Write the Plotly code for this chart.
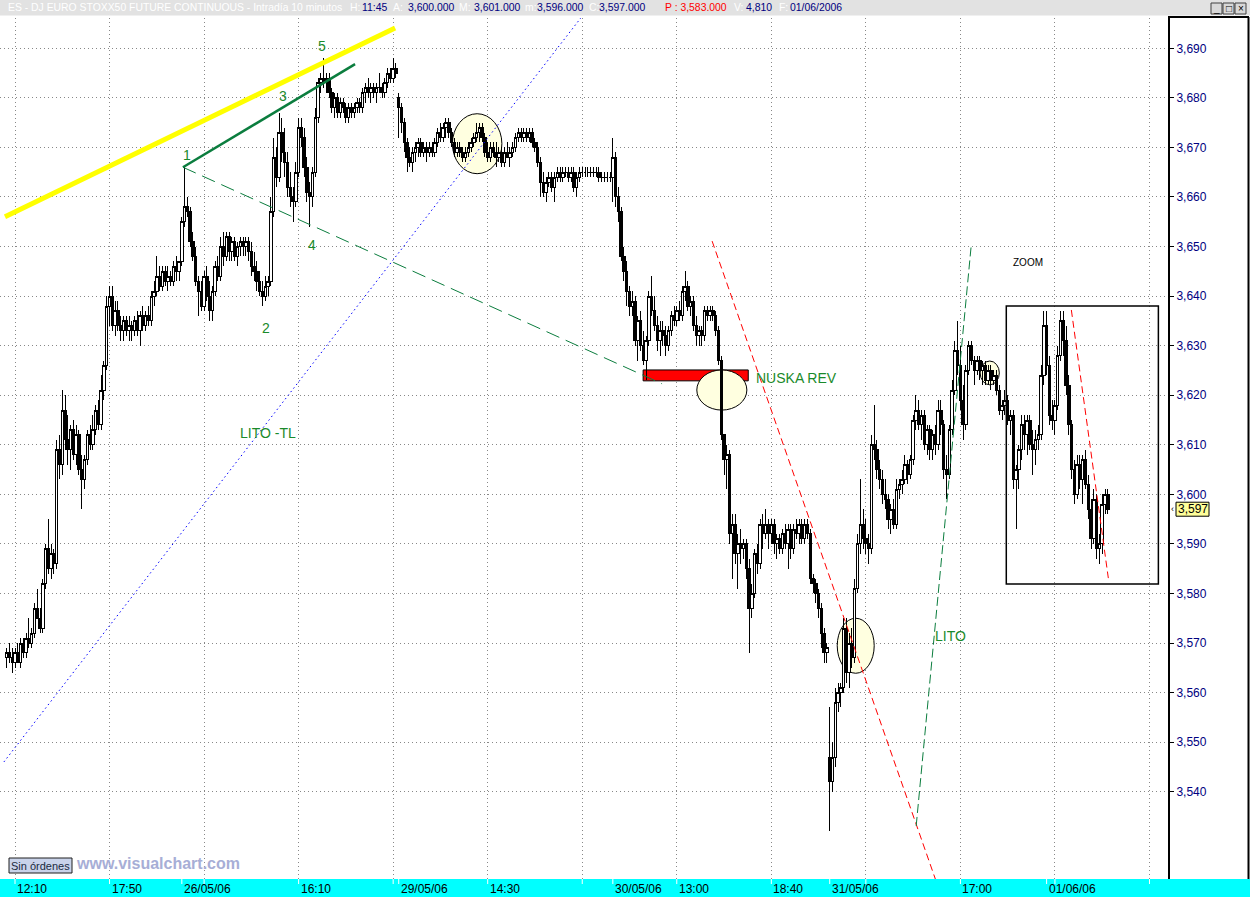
import plotly.graph_objects as go

# ---------------- data (10-minute bars) ----------------
open_prices = [
    3567, 3568, 3567, 3566, 3568, 3566, 3570, 3568, 3571, 3570,
    3572, 3577, 3575, 3573, 3582, 3589, 3585, 3588, 3586, 3609,
    3606, 3617, 3611, 3609, 3613, 3608, 3612, 3605, 3603, 3607,
    3612, 3610, 3613, 3617, 3614, 3621, 3626, 3638, 3640, 3634,
    3637, 3634, 3633, 3635, 3633, 3634, 3633, 3635, 3633, 3636,
    3634, 3636, 3635, 3640, 3641, 3644, 3642, 3645, 3643, 3644,
    3643, 3646, 3645, 3647, 3655, 3658, 3657, 3651, 3648, 3643,
    3641, 3638, 3644, 3640, 3637, 3641, 3646, 3644, 3650, 3648,
    3652, 3649, 3651, 3648, 3650, 3651, 3650, 3651, 3649, 3646,
    3645, 3643, 3641, 3640, 3642, 3643, 3657, 3668, 3664, 3673,
    3669, 3667, 3662, 3660, 3659, 3665, 3674, 3672, 3666, 3661,
    3660, 3665, 3676, 3683, 3684, 3683, 3684, 3681, 3678, 3680,
    3677, 3679, 3678, 3676, 3678, 3677, 3678, 3679, 3678, 3681,
    3682, 3681, 3682, 3681, 3682, 3682, 3681, 3683, 3685, 3684,
    3686, 3680, 3678, 3675, 3671, 3668, 3667, 3669, 3670, 3671,
    3669, 3670, 3669, 3670, 3669, 3671, 3673, 3672, 3674, 3675,
    3673, 3671, 3669, 3670, 3669, 3668, 3669, 3670, 3671, 3672,
    3673, 3674, 3672, 3669, 3668, 3670, 3669, 3668, 3669, 3667,
    3669, 3668, 3669, 3670, 3672, 3673, 3672, 3673, 3672, 3673,
    3671, 3670, 3667, 3663, 3661, 3663, 3664, 3662, 3664, 3665,
    3664, 3665, 3665, 3664, 3665, 3662, 3664, 3665, 3665, 3665,
    3665, 3665, 3665, 3665, 3664, 3664, 3664, 3664, 3664, 3668,
    3660, 3657, 3648, 3645, 3641, 3638, 3639, 3631, 3635, 3630,
    3627, 3631, 3640, 3637, 3634, 3631, 3633, 3632, 3630, 3633,
    3636, 3635, 3637, 3636, 3641, 3642, 3638, 3639, 3634, 3632,
    3633, 3632, 3637, 3636, 3637, 3636, 3633, 3627, 3612, 3607,
    3608, 3592, 3594, 3588, 3590, 3589, 3590, 3585, 3577, 3580,
    3588, 3586, 3594, 3592, 3594, 3592, 3594, 3590, 3591, 3589,
    3592, 3590, 3593, 3589, 3593, 3592, 3594, 3591, 3594, 3592,
    3583, 3582, 3580, 3577, 3572, 3568, 3547, 3542, 3547, 3558,
    3560, 3561, 3573, 3564, 3570, 3567, 3581, 3590, 3594, 3591,
    3590, 3589, 3610, 3609, 3605, 3603, 3600, 3599, 3595, 3597,
    3594, 3601, 3602, 3603, 3606, 3604, 3607, 3615, 3617, 3614,
    3616, 3610, 3613, 3609, 3612, 3610, 3617, 3614, 3605, 3604,
    3613, 3621, 3629, 3626, 3619, 3614, 3625, 3630, 3627, 3625,
    3627, 3625, 3626, 3623, 3625, 3623, 3624, 3621, 3617, 3618,
    3619, 3615, 3616, 3603, 3605, 3609, 3614, 3612, 3615, 3610,
    3609, 3611, 3612, 3624, 3634, 3626, 3616, 3615, 3618, 3628,
    3635, 3631, 3622, 3614, 3605, 3600, 3606, 3603, 3607, 3602,
    3597, 3591, 3599, 3589, 3590, 3598, 3600,
]
high_prices = [
    3569, 3570, 3569, 3569, 3570, 3571, 3571, 3572, 3575, 3573,
    3578, 3581, 3577, 3583, 3590, 3595, 3590, 3589, 3611, 3612,
    3621, 3620, 3616, 3614, 3615, 3614, 3613, 3608, 3608, 3613,
    3614, 3616, 3618, 3619, 3624, 3627, 3640, 3642, 3642, 3639,
    3639, 3636, 3636, 3636, 3636, 3635, 3636, 3637, 3637, 3638,
    3637, 3638, 3641, 3643, 3648, 3646, 3646, 3646, 3646, 3645,
    3647, 3648, 3647, 3656, 3666, 3660, 3658, 3653, 3650, 3644,
    3643, 3645, 3646, 3643, 3642, 3647, 3648, 3652, 3653, 3653,
    3653, 3652, 3652, 3651, 3652, 3652, 3652, 3652, 3651, 3649,
    3647, 3645, 3643, 3644, 3644, 3660, 3672, 3670, 3677, 3676,
    3674, 3669, 3665, 3662, 3667, 3676, 3676, 3674, 3668, 3663,
    3666, 3678, 3684, 3685, 3688, 3685, 3685, 3682, 3681, 3681,
    3680, 3680, 3679, 3679, 3679, 3679, 3680, 3680, 3682, 3683,
    3684, 3683, 3683, 3683, 3685, 3683, 3684, 3686, 3686, 3688,
    3687, 3681, 3679, 3676, 3672, 3670, 3670, 3671, 3672, 3672,
    3671, 3671, 3671, 3671, 3672, 3674, 3675, 3675, 3676, 3676,
    3674, 3672, 3671, 3671, 3670, 3670, 3671, 3672, 3673, 3675,
    3675, 3675, 3673, 3671, 3671, 3671, 3671, 3670, 3670, 3670,
    3671, 3670, 3671, 3673, 3674, 3674, 3674, 3674, 3674, 3674,
    3672, 3671, 3668, 3665, 3664, 3665, 3665, 3665, 3666, 3666,
    3666, 3666, 3666, 3666, 3666, 3665, 3666, 3666, 3666, 3666,
    3666, 3666, 3666, 3666, 3665, 3665, 3665, 3665, 3672, 3669,
    3662, 3658, 3650, 3647, 3642, 3641, 3640, 3636, 3637, 3633,
    3632, 3641, 3644, 3640, 3636, 3635, 3635, 3634, 3634, 3637,
    3638, 3638, 3639, 3642, 3645, 3643, 3640, 3640, 3636, 3634,
    3634, 3638, 3638, 3638, 3638, 3637, 3634, 3628, 3612, 3610,
    3609, 3596, 3596, 3592, 3593, 3591, 3591, 3587, 3582, 3589,
    3590, 3595, 3596, 3597, 3595, 3595, 3595, 3592, 3592, 3593,
    3594, 3594, 3594, 3594, 3595, 3595, 3595, 3595, 3595, 3593,
    3584, 3583, 3581, 3578, 3573, 3570, 3557, 3550, 3561, 3562,
    3562, 3575, 3575, 3572, 3573, 3583, 3592, 3603, 3597, 3595,
    3592, 3612, 3618, 3611, 3607, 3605, 3603, 3600, 3598, 3599,
    3603, 3603, 3605, 3608, 3607, 3608, 3616, 3620, 3619, 3617,
    3617, 3614, 3614, 3613, 3614, 3619, 3619, 3615, 3608, 3614,
    3623, 3631, 3635, 3630, 3622, 3626, 3631, 3631, 3628, 3628,
    3628, 3627, 3627, 3626, 3626, 3625, 3625, 3622, 3619, 3621,
    3620, 3617, 3617, 3606, 3610, 3616, 3616, 3616, 3616, 3613,
    3613, 3614, 3626, 3637, 3637, 3628, 3619, 3619, 3630, 3637,
    3637, 3634, 3624, 3615, 3607, 3608, 3608, 3608, 3609, 3604,
    3599, 3601, 3600, 3592, 3600, 3601, 3601,
]
low_prices = [
    3565, 3566, 3564, 3565, 3566, 3565, 3567, 3567, 3569, 3569,
    3571, 3575, 3572, 3572, 3581, 3584, 3583, 3584, 3585, 3603,
    3604, 3609, 3606, 3605, 3607, 3606, 3604, 3597, 3601, 3606,
    3609, 3609, 3612, 3613, 3613, 3619, 3625, 3634, 3633, 3632,
    3633, 3631, 3631, 3632, 3631, 3631, 3632, 3632, 3630, 3633,
    3633, 3634, 3634, 3638, 3640, 3641, 3641, 3642, 3641, 3642,
    3642, 3643, 3643, 3646, 3654, 3656, 3650, 3647, 3642, 3636,
    3637, 3637, 3639, 3635, 3635, 3640, 3643, 3643, 3646, 3647,
    3647, 3647, 3647, 3646, 3648, 3648, 3648, 3647, 3644, 3643,
    3641, 3640, 3638, 3639, 3640, 3642, 3656, 3662, 3663, 3667,
    3664, 3660, 3658, 3655, 3658, 3664, 3670, 3664, 3659, 3654,
    3658, 3664, 3675, 3681, 3682, 3681, 3680, 3677, 3676, 3676,
    3676, 3677, 3675, 3675, 3676, 3676, 3677, 3677, 3677, 3679,
    3680, 3679, 3680, 3679, 3681, 3680, 3680, 3682, 3683, 3683,
    3684, 3672, 3673, 3669, 3665, 3666, 3665, 3667, 3668, 3668,
    3668, 3667, 3668, 3668, 3668, 3670, 3671, 3671, 3672, 3672,
    3670, 3668, 3668, 3668, 3667, 3667, 3668, 3669, 3670, 3671,
    3671, 3671, 3668, 3667, 3667, 3668, 3666, 3667, 3666, 3666,
    3668, 3666, 3668, 3669, 3671, 3671, 3671, 3671, 3671, 3670,
    3669, 3666, 3660, 3660, 3659, 3662, 3661, 3659, 3663, 3663,
    3663, 3664, 3663, 3663, 3661, 3660, 3663, 3664, 3664, 3664,
    3664, 3664, 3664, 3663, 3663, 3663, 3663, 3663, 3659, 3658,
    3655, 3647, 3643, 3638, 3636, 3636, 3630, 3627, 3629, 3626,
    3623, 3630, 3636, 3633, 3629, 3628, 3630, 3628, 3629, 3632,
    3634, 3634, 3635, 3635, 3639, 3637, 3636, 3633, 3630, 3630,
    3630, 3631, 3635, 3635, 3635, 3632, 3626, 3611, 3604, 3601,
    3590, 3583, 3586, 3581, 3586, 3587, 3583, 3568, 3575, 3579,
    3584, 3585, 3589, 3591, 3589, 3590, 3588, 3587, 3588, 3588,
    3589, 3585, 3587, 3588, 3591, 3590, 3590, 3590, 3591, 3582,
    3580, 3578, 3575, 3569, 3566, 3566, 3532, 3540, 3545, 3556,
    3557, 3560, 3562, 3561, 3565, 3566, 3580, 3588, 3589, 3588,
    3586, 3588, 3607, 3603, 3601, 3598, 3597, 3593, 3592, 3593,
    3593, 3599, 3600, 3602, 3602, 3603, 3606, 3613, 3613, 3611,
    3609, 3608, 3607, 3607, 3608, 3609, 3612, 3603, 3599, 3603,
    3612, 3620, 3624, 3617, 3611, 3613, 3624, 3626, 3622, 3624,
    3623, 3622, 3622, 3622, 3621, 3622, 3620, 3616, 3615, 3616,
    3614, 3612, 3601, 3593, 3601, 3607, 3609, 3608, 3609, 3604,
    3606, 3609, 3611, 3622, 3624, 3614, 3613, 3612, 3617, 3627,
    3628, 3620, 3612, 3603, 3598, 3599, 3601, 3598, 3601, 3595,
    3589, 3590, 3587, 3586, 3588, 3596, 3596,
]
close_prices = [
    3568, 3567, 3566, 3568, 3566, 3570, 3568, 3571, 3570, 3572,
    3577, 3575, 3573, 3582, 3589, 3585, 3588, 3586, 3609, 3606,
    3617, 3611, 3609, 3613, 3608, 3612, 3605, 3603, 3607, 3612,
    3610, 3613, 3617, 3614, 3621, 3626, 3638, 3640, 3634, 3637,
    3634, 3633, 3635, 3633, 3634, 3633, 3635, 3633, 3636, 3634,
    3636, 3635, 3640, 3641, 3644, 3642, 3645, 3643, 3644, 3643,
    3646, 3645, 3647, 3655, 3658, 3657, 3651, 3648, 3643, 3641,
    3638, 3644, 3640, 3637, 3641, 3646, 3644, 3650, 3648, 3652,
    3649, 3651, 3648, 3650, 3651, 3650, 3651, 3649, 3646, 3645,
    3643, 3641, 3640, 3642, 3643, 3657, 3668, 3664, 3673, 3669,
    3667, 3662, 3660, 3659, 3665, 3674, 3672, 3666, 3661, 3660,
    3665, 3676, 3683, 3684, 3683, 3684, 3681, 3678, 3680, 3677,
    3679, 3678, 3676, 3678, 3677, 3678, 3679, 3678, 3681, 3682,
    3681, 3682, 3681, 3682, 3682, 3681, 3683, 3685, 3684, 3686,
    3685, 3678, 3675, 3671, 3668, 3667, 3669, 3670, 3671, 3669,
    3670, 3669, 3670, 3669, 3671, 3673, 3672, 3674, 3675, 3673,
    3671, 3669, 3670, 3669, 3668, 3669, 3670, 3671, 3672, 3673,
    3674, 3672, 3669, 3668, 3670, 3669, 3668, 3669, 3667, 3669,
    3668, 3669, 3670, 3672, 3673, 3672, 3673, 3672, 3673, 3671,
    3670, 3667, 3663, 3661, 3663, 3664, 3662, 3664, 3665, 3664,
    3665, 3665, 3664, 3665, 3662, 3664, 3665, 3665, 3665, 3665,
    3665, 3665, 3665, 3664, 3664, 3664, 3664, 3664, 3668, 3660,
    3657, 3648, 3645, 3641, 3638, 3639, 3631, 3635, 3630, 3627,
    3631, 3640, 3637, 3634, 3631, 3633, 3632, 3630, 3633, 3636,
    3635, 3637, 3636, 3641, 3642, 3638, 3639, 3634, 3632, 3633,
    3632, 3637, 3636, 3637, 3636, 3633, 3627, 3612, 3607, 3608,
    3592, 3594, 3588, 3590, 3589, 3590, 3585, 3577, 3580, 3588,
    3586, 3594, 3592, 3594, 3592, 3594, 3590, 3591, 3589, 3592,
    3590, 3593, 3589, 3593, 3592, 3594, 3591, 3594, 3592, 3583,
    3582, 3580, 3577, 3572, 3568, 3569, 3542, 3547, 3558, 3560,
    3561, 3573, 3564, 3570, 3567, 3581, 3590, 3594, 3591, 3590,
    3589, 3610, 3609, 3605, 3603, 3600, 3599, 3595, 3597, 3594,
    3601, 3602, 3603, 3606, 3604, 3607, 3615, 3617, 3614, 3616,
    3610, 3613, 3609, 3612, 3610, 3617, 3614, 3605, 3604, 3613,
    3621, 3629, 3626, 3619, 3614, 3625, 3630, 3627, 3625, 3627,
    3625, 3626, 3623, 3625, 3623, 3624, 3621, 3617, 3618, 3619,
    3615, 3616, 3603, 3605, 3609, 3614, 3612, 3615, 3610, 3609,
    3611, 3612, 3624, 3634, 3626, 3616, 3615, 3618, 3628, 3635,
    3631, 3622, 3614, 3605, 3600, 3606, 3603, 3607, 3602, 3597,
    3591, 3599, 3589, 3590, 3598, 3600, 3597,
]
bar_index = list(range(len(close_prices)))

grid_bars = [3, 37, 71, 105, 139, 173, 207, 241, 275, 309, 343, 377, 411]
time_labels = ["12:10", "17:50", "16:10", "14:30", "13:00", "18:40", "17:00"]
time_label_bars = [3, 37, 105, 173, 241, 275, 343]
date_labels = ["26/05/06", "29/05/06", "30/05/06", "31/05/06", "01/06/06"]
date_label_bars = [63, 141, 218, 296, 374]
price_ticks = [3540, 3550, 3560, 3570, 3580, 3590, 3600, 3610, 3620,
               3630, 3640, 3650, 3660, 3670, 3680, 3690]
last_price = 3597

# drawn studies: (bar, price) anchors
yellow_channel = [(-0.6, 3656.0), (139.7, 3694.1)]
wave_1_5_line = [(63.4, 3666.0), (125.3, 3686.8)]
wave_1_4_line = [(63.4, 3666.0), (235.7, 3622.3)]
lito_tl_line = [(-1.0, 3546.0), (207.0, 3696.5)]
red_trend_1 = [(253.7, 3651.1), (334.1, 3522.2)]
red_trend_2 = [(382.9, 3637.2), (396.2, 3583.1)]
lito_line = [(327.1, 3533.1), (346.9, 3650.3)]
nuska_zone = [(228.9, 3622.9), (266.7, 3625.1)]
circles = [
    [(160.3, 3664.7), (178.1, 3676.8)],
    [(248.2, 3617.0), (266.2, 3625.1)],
    [(298.7, 3563.9), (312.0, 3575.0)],
    [(350.1, 3622.1), (357.0, 3626.9)],
]
zoom_box = [(359.5, 3581.9), (414.2, 3638.0)]
wave_labels = [("1", 64.9, 3668.5), ("2", 93.3, 3633.6), ("3", 99.4, 3680.4),
               ("4", 109.8, 3650.3), ("5", 113.4, 3690.5)]
green_notes = [("LITO -TL", 94.0, 3612.4), ("NUSKA REV", 283.9, 3623.5),
               ("LITO", 339.3, 3571.4)]

# ---------------- geometry ----------------
W, H = 1250, 897
PL, PR, PT, PB = 0, 1168, 18, 879
BAR_PX = 2.7806
X0_PX = 6.66
PX_PER_PT = 4.956
Y_3690 = 48.3
x_range = [(PL - X0_PX) / BAR_PX, (PR - X0_PX) / BAR_PX]
y_range = [3690 - (PB - Y_3690) / PX_PER_PT, 3690 + (Y_3690 - PT) / PX_PER_PT]


def pxx(x):
    return (x - PL) / (PR - PL)


def pxy(y):
    return (PB - y) / (PB - PT)


FONT = "Liberation Sans, Arial, sans-serif"
GREEN = "#1a8a2a"

fig = go.Figure()
fig.add_trace(go.Candlestick(
    x=bar_index, open=open_prices, high=high_prices, low=low_prices, close=close_prices,
    increasing=dict(line=dict(color="black", width=1), fillcolor="white"),
    decreasing=dict(line=dict(color="black", width=1), fillcolor="black"),
    whiskerwidth=0, showlegend=False, hoverinfo="skip",
))

shapes = []
annotations = []

# zone + circles (under the candles)
shapes.append(dict(type="rect", xref="x", yref="y", layer="between",
                   x0=nuska_zone[0][0], y0=nuska_zone[0][1], x1=nuska_zone[1][0], y1=nuska_zone[1][1],
                   fillcolor="#ff0000", line=dict(color="black", width=1)))
for c in circles:
    shapes.append(dict(type="circle", xref="x", yref="y", layer="between",
                       x0=c[0][0], y0=c[0][1], x1=c[1][0], y1=c[1][1],
                       fillcolor="#ffffe0", line=dict(color="black", width=1)))


def seg(pts, color, width, dash="solid"):
    shapes.append(dict(type="line", xref="x", yref="y", layer="above",
                       x0=pts[0][0], y0=pts[0][1], x1=pts[1][0], y1=pts[1][1],
                       line=dict(color=color, width=width, dash=dash)))


seg(yellow_channel, "#ffff00", 5)
seg(wave_1_5_line, "#0b7d3e", 2.5)
seg(wave_1_4_line, "#0b7d3e", 1, "14px,7px")
seg(lito_tl_line, "#0000ff", 1, "1.5px,3px")
seg(red_trend_1, "#ff0000", 1, "7px,4px")
seg(red_trend_2, "#ff0000", 1, "7px,4px")
seg(lito_line, "#0b7d3e", 1, "9px,4px")
shapes.append(dict(type="rect", xref="x", yref="y", layer="above",
                   x0=zoom_box[0][0], y0=zoom_box[0][1], x1=zoom_box[1][0], y1=zoom_box[1][1],
                   line=dict(color="black", width=1.5)))


def note(x, y, text, size, color, xref="paper", yref="paper", xanchor="center", **kw):
    annotations.append(dict(x=x, y=y, xref=xref, yref=yref, text=text, showarrow=False,
                            xanchor=xanchor, yanchor="middle", borderpad=0,
                            font=dict(family=FONT, size=size, color=color), **kw))


for t, xb, yp in wave_labels + green_notes:
    note(xb, yp, t, 14, GREEN, xref="x", yref="y")
note(367.4, 3646.7, "ZOOM", 10, "black", xref="x", yref="y")

# ---- bottom time band ----
shapes.append(dict(type="rect", xref="paper", yref="paper", layer="above",
                   x0=pxx(0), x1=pxx(W), y0=pxy(H), y1=pxy(PB),
                   fillcolor="#00ffff", line=dict(width=0)))
for b in sorted(set(grid_bars + date_label_bars)):
    shapes.append(dict(type="line", xref="x", yref="paper", layer="above",
                       x0=b, x1=b, y0=pxy(PB), y1=pxy(PB + 5),
                       line=dict(color="white", width=1)))
for t, b in list(zip(time_labels, time_label_bars)) + list(zip(date_labels, date_label_bars)):
    note(b, pxy(889), t, 12, "black", xref="x", xanchor="left", xshift=1)

# ---- right price panel frame ----
shapes.append(dict(type="line", xref="paper", yref="paper", x0=pxx(PR), x1=pxx(1249),
                   y0=pxy(17), y1=pxy(17), line=dict(color="black", width=2)))
shapes.append(dict(type="line", xref="paper", yref="paper", x0=pxx(1248.5), x1=pxx(1248.5),
                   y0=pxy(17), y1=pxy(PB), line=dict(color="black", width=2)))

# last price flag
yl = Y_3690 + (3690 - last_price) * PX_PER_PT
shapes.append(dict(type="rect", xref="paper", yref="paper",
                   x0=pxx(1176), x1=pxx(1209), y0=pxy(yl + 7), y1=pxy(yl - 7),
                   fillcolor="#ffff99", line=dict(color="black", width=1)))
note(pxx(1192.5), pxy(yl), f"{last_price:,}", 12, "black")
note(pxx(1172.5), pxy(yl), "‹", 9, "black")

# ---- title bar ----
shapes.append(dict(type="rect", xref="paper", yref="paper", x0=pxx(0), x1=pxx(W),
                   y0=pxy(15.5), y1=pxy(0), fillcolor="#e2e2e2", line=dict(width=0)))
WHITE, NAVY, RED = "#ffffff", "#000080", "#ff0000"
title_parts = [
    (7, "ES - DJ EURO STOXX50 FUTURE CONTINUOUS - Intradía 10 minutos", WHITE),
    (349, "H:", WHITE),
    (361, "11:45", NAVY), (392, "A:", WHITE), (407, "3,600.000", NAVY),
    (458, "M:", WHITE), (473, "3,601.000", NAVY), (524, "m:", WHITE),
    (536, "3,596.000", NAVY), (588, "C:", WHITE), (598, "3,597.000", NAVY),
    (664, "P : 3,583.000", RED), (733, "V:", WHITE), (745, "4,810", NAVY),
    (778, "F:", WHITE), (789, "01/06/2006", NAVY),
]
for xp, t, col in title_parts:
    note(pxx(xp), pxy(7.5), t, 10.4, col, xanchor="left")
# window buttons
for bx, glyph in [(1211, "_"), (1223, "□"), (1235, "×")]:
    shapes.append(dict(type="rect", xref="paper", yref="paper", x0=pxx(bx), x1=pxx(bx + 11),
                       y0=pxy(14), y1=pxy(3), fillcolor="#d8d8d8",
                       line=dict(color="#404040", width=1)))
    note(pxx(bx + 5.5), pxy(8.5), glyph, 10, "black")

# ---- bottom-left badges ----
shapes.append(dict(type="rect", xref="paper", yref="paper", x0=pxx(9), x1=pxx(72),
                   y0=pxy(873), y1=pxy(858), fillcolor="#c9d3ea",
                   line=dict(color="#202020", width=1)))
note(pxx(40.5), pxy(865.5), "Sin órdenes", 11, "#1a2a40")
note(pxx(75), pxy(863), "<b>www.visualchart.com</b>", 16, "#a7aed6", xanchor="left")

GRID = dict(showgrid=True, gridcolor="#888888", gridwidth=1, griddash="1px,3px")
fig.update_layout(
    width=W, height=H,
    margin=dict(l=PL, r=W - PR, t=PT, b=H - PB, pad=0),
    paper_bgcolor="white", plot_bgcolor="white",
    showlegend=False, boxgap=0.12, boxgroupgap=0,
    xaxis=dict(range=x_range, tickvals=grid_bars, showticklabels=False, ticks="",
               zeroline=False, showline=False, rangeslider=dict(visible=False),
               fixedrange=True, **GRID),
    yaxis=dict(range=y_range, side="right", tickvals=price_ticks, tickformat=",d",
               ticks="outside", ticklen=4, tickcolor="black", tickwidth=1,
               showline=True, linecolor="black", linewidth=2, zeroline=False,
               tickfont=dict(family=FONT, size=12, color="#000080"),
               fixedrange=True, **GRID),
    shapes=shapes, annotations=annotations,
)
fig.write_html(
    "out.html",
    config={"displayModeBar": False, "staticPlot": True},
    post_script="document.body.style.margin='0';document.body.style.padding='0';"
                "document.body.style.overflow='hidden';"
                "document.querySelectorAll('.boxlayer path').forEach(function(p){"
                "p.style.shapeRendering='crispEdges';});",
)
